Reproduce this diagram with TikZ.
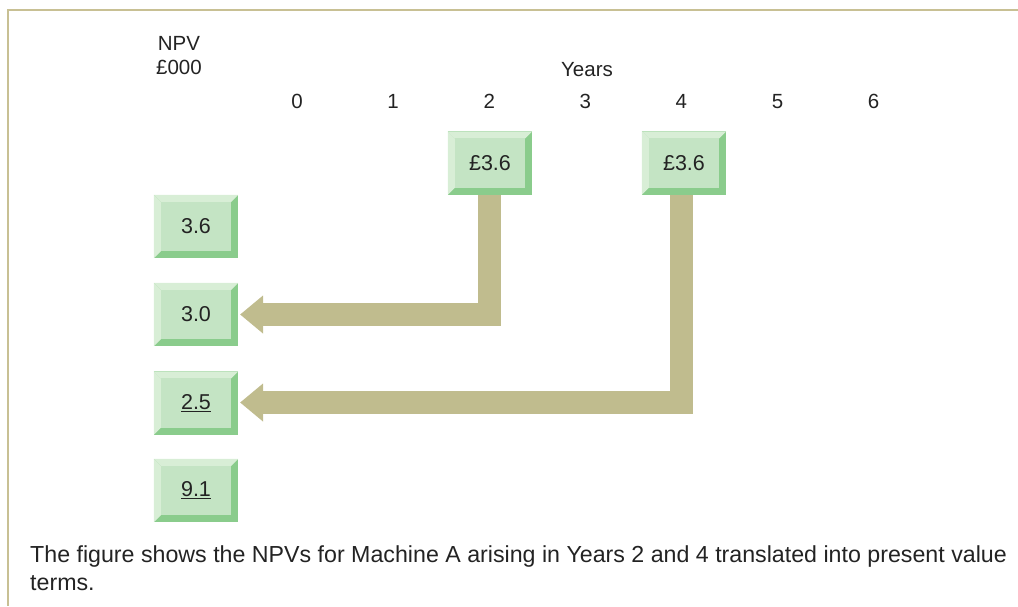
\documentclass[tikz,border=0pt]{standalone}
\usepackage{fontspec}
\setmainfont{Liberation Sans}
\definecolor{frame}{RGB}{200,192,148}
\definecolor{face}{RGB}{196,228,196}
\definecolor{lite}{RGB}{216,238,214}
\definecolor{dark}{RGB}{138,204,140}
\definecolor{flow}{RGB}{192,188,142}
\definecolor{ink}{RGB}{35,35,35}
\tikzset{
  x=1pt, y=-1pt,
  lbl/.style={font=\fontsize{20.5}{24}\selectfont, text=ink, inner sep=0pt},
  valbox/.style={minimum width=84pt, minimum height=63pt, inner sep=0pt,
    font=\fontsize{21.5}{24}\selectfont, text=ink},
  flowline/.style={draw=flow, line width=22.5pt, line join=miter},
  flowhead/.style={fill=flow, draw=none}
}
% bevelled value box: name, centre, text
\newcommand\bevbox[3]{%
  \node[valbox] (#1) at (#2) {};
  \fill[dark] (#1.south west) rectangle (#1.north east);
  \fill[lite] (#1.north west) -- (#1.north east) -- ([shift={(-7,7)}]#1.north east)
     -- ([shift={(7,7)}]#1.north west) -- cycle;
  \fill[lite] (#1.north west) -- ([shift={(7,7)}]#1.north west)
     -- ([shift={(7,-7)}]#1.south west) -- (#1.south west) -- cycle;
  \fill[face] ([shift={(7,7)}]#1.north west) rectangle ([shift={(-7,-7)}]#1.south east);
  \node[valbox] at (#1) {#3};
}
\begin{document}
\begin{tikzpicture}
\useasboundingbox (0,0) rectangle (1018,606);
% frame
\draw[frame, line width=2.6pt] (1018,9.8) -- (8,9.8) -- (8,606);
% axis labels
\node[lbl, align=center] (npv) at (179,56) {NPV\\£000};
\node[lbl] (years) at (587,70) {Years};
\foreach \i in {0,...,6} {
  \node[lbl, anchor=base] (y\i) at ({297+96.1*\i},108.5) {\i};
}
% flows from future years to present value
\coordinate (c2) at (489.5,194);
\coordinate (c4) at (681.5,194);
\draw[flowline] (c2) |- (263,314.5);
\draw[flowline] (c4) |- (263,402.5);
% boxes
\bevbox{p2}{490,163}{£3.6}
\bevbox{p4}{684,163}{£3.6}
\bevbox{v1}{196,226.5}{3.6}
\bevbox{v2}{196,314.5}{3.0}
\bevbox{v3}{196,403}{\underline{2.5}}
\bevbox{v4}{196,490.5}{\underline{9.1}}
% arrow heads
\fill[flowhead] ([xshift=2pt]v2.east) -- (263,295.5) -- (263,333.5) -- cycle;
\fill[flowhead] ([xshift=2pt]v3.east |- 0,402.5) -- (263,383.5) -- (263,421.5) -- cycle;
% caption
\node[lbl, anchor=west, font=\fontsize{23.2}{28}\selectfont, align=left] (cap) at (30,568)
  {The figure shows the NPVs for Machine A arising in Years 2 and 4 translated into present value\\terms.};
\end{tikzpicture}
\end{document}
